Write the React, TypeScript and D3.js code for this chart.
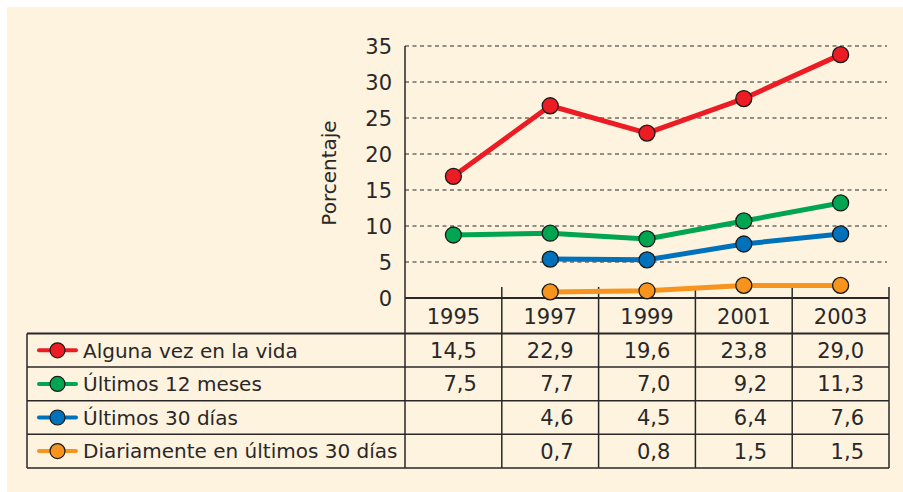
import React from "react";
import * as d3 from "d3";

const years = ["1995", "1997", "1999", "2001", "2003"];
const seriesNames = [
  "Alguna vez en la vida",
  "Últimos 12 meses",
  "Últimos 30 días",
  "Diariamente en últimos 30 días",
];
const seriesColors = ["#EC1C24", "#00A551", "#0072BC", "#F7941D"];
// Values as printed in the table
const tableAlguna = ["14,5", "22,9", "19,6", "23,8", "29,0"];
const table12 = ["7,5", "7,7", "7,0", "9,2", "11,3"];
const table30 = ["", "4,6", "4,5", "6,4", "7,6"];
const tableDiario = ["", "0,7", "0,8", "1,5", "1,5"];
// Positions of the points (against the 0–35 axis)
const plotAlguna: (number | null)[] = [16.9, 26.7, 22.9, 27.7, 33.8];
const plot12: (number | null)[] = [8.75, 9.0, 8.2, 10.7, 13.2];
const plot30: (number | null)[] = [null, 5.4, 5.3, 7.5, 8.9];
const plotDiario: (number | null)[] = [null, 0.85, 1.0, 1.75, 1.75];
const yTicks = [0, 5, 10, 15, 20, 25, 30, 35];

const tables = [tableAlguna, table12, table30, tableDiario];
const plots = [plotAlguna, plot12, plot30, plotDiario];

const FONT = "'DejaVu Sans', sans-serif";
const INK = "#2a2728";

export default function App() {
  const W = 903, H = 492;
  const x = d3.scaleBand<string>().domain(years).range([405, 889]).padding(0);
  const y = d3.scaleLinear().domain([0, 35]).range([298, 46]);
  const bw = x.bandwidth();
  const cx = (yr: string) => (x(yr) as number) + bw / 2;

  const headerTop = y(0);
  const headerBottom = 333.5;
  const rowH = 33.6;
  const tableLeft = 27;
  const tableRight = 889;
  const rowsBottom = headerBottom + rowH * seriesNames.length;

  const line = d3
    .line<[string, number | null]>()
    .defined((d) => d[1] !== null)
    .x((d) => cx(d[0]))
    .y((d) => y(d[1] as number));

  const txt = { fontFamily: FONT, fill: INK } as const;

  return (
    <svg width={W} height={H} style={{ position: "absolute", left: 0, top: 0 }}>
      <rect x={0} y={0} width={W} height={H} fill="#ffffff" />
      <rect x={7} y={7} width={W - 7} height={H - 7} fill="#FDF3DE" />

      {/* gridlines */}
      {yTicks.filter((t) => t > 0).map((t) => (
        <line key={t} x1={405} x2={887} y1={y(t)} y2={y(t)} stroke={INK} strokeWidth={1} strokeDasharray="4 3.5" />
      ))}
      {/* y tick labels */}
      {yTicks.map((t) => (
        <text key={t} x={392} y={y(t)} dy="0.36em" textAnchor="end" fontSize={21} {...txt}>
          {t}
        </text>
      ))}
      <text
        transform={`translate(329,173) rotate(-90)`}
        textAnchor="middle"
        dy="0.36em"
        fontSize={20}
        {...txt}
      >
        Porcentaje
      </text>

      {/* table lines */}
      <line x1={405} x2={405} y1={y(35)} y2={rowsBottom} stroke={INK} strokeWidth={1.5} />
      {years.map((yr) => (
        <line key={yr} x1={(x(yr) as number) + bw} x2={(x(yr) as number) + bw} y1={287} y2={rowsBottom} stroke={INK} strokeWidth={1.5} />
      ))}
      <line x1={405} x2={tableRight} y1={headerTop} y2={headerTop} stroke={INK} strokeWidth={2} />
      <line x1={tableLeft} x2={tableRight} y1={headerBottom} y2={headerBottom} stroke={INK} strokeWidth={2} />
      {seriesNames.map((_, i) => (
        <line key={i} x1={tableLeft} x2={tableRight} y1={headerBottom + rowH * (i + 1)} y2={headerBottom + rowH * (i + 1)} stroke={INK} strokeWidth={1.5} />
      ))}
      <line x1={tableLeft} x2={tableLeft} y1={headerBottom} y2={rowsBottom} stroke={INK} strokeWidth={1.5} />

      {/* year headers */}
      {years.map((yr) => (
        <text key={yr} x={cx(yr)} y={(headerTop + headerBottom) / 2 + 1} dy="0.36em" textAnchor="middle" fontSize={21} {...txt}>
          {yr}
        </text>
      ))}

      {/* rows */}
      {seriesNames.map((name, i) => {
        const my = headerBottom + rowH * i + rowH / 2;
        return (
          <g key={name}>
            <line x1={39} x2={76} y1={my} y2={my} stroke={seriesColors[i]} strokeWidth={4} strokeLinecap="round" />
            <circle cx={57.5} cy={my} r={7.5} fill={seriesColors[i]} stroke="#1a1a1a" strokeWidth={1.2} />
            <text x={83} y={my} dy="0.36em" fontSize={20} {...txt}>
              {name}
            </text>
            {tables[i].map((v, j) => (
              <text key={j} x={(x(years[j]) as number) + bw - 25} y={my} dy="0.36em" textAnchor="end" fontSize={21} {...txt}>
                {v}
              </text>
            ))}
          </g>
        );
      })}

      {/* series */}
      {plots.map((vals, i) => {
        const pts = years.map((yr, j) => [yr, vals[j]] as [string, number | null]);
        return (
          <g key={i}>
            <path d={line(pts) || ""} fill="none" stroke={seriesColors[i]} strokeWidth={5} strokeLinejoin="round" />
            {pts.filter((p) => p[1] !== null).map((p) => (
              <circle key={p[0]} cx={cx(p[0])} cy={y(p[1] as number)} r={8} fill={seriesColors[i]} stroke="#1a1a1a" strokeWidth={1.3} />
            ))}
          </g>
        );
      })}
    </svg>
  );
}
